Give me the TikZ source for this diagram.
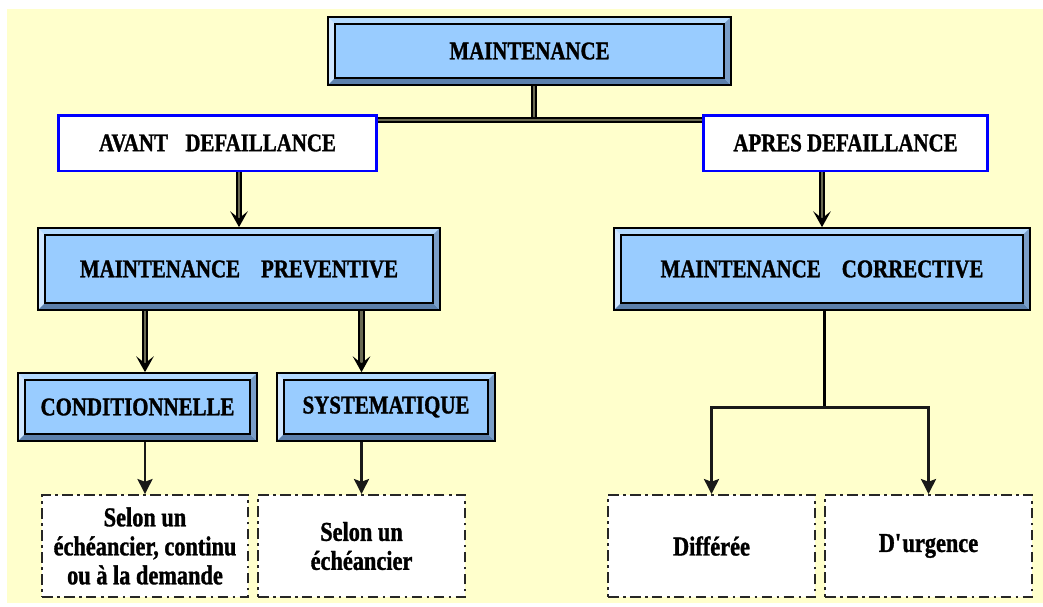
\documentclass[tikz,border=0pt]{standalone}
\usepackage{fontspec}
\setmainfont{Liberation Serif}[FakeStretch=0.82, BoldFeatures={FakeBold=1.2}]
\usepackage{tikz}
\usetikzlibrary{arrows.meta,positioning}
\usepackage{xcolor}
\definecolor{bgyellow}{HTML}{FFFFCC}
\definecolor{faceblue}{HTML}{99CCFF}
\definecolor{bevtop}{HTML}{B4DAFF}
\definecolor{bevleft}{HTML}{CFE6FF}
\definecolor{bevbot}{HTML}{5C80AC}
\definecolor{bevright}{HTML}{7A9EC8}
\definecolor{shaft}{HTML}{6A6A52}
\newcommand{\bev}{0.14cm}
\tikzset{
mnt/.style = {align=center, inner sep=0pt, text centered,
font=\fontsize{14.5}{16}\selectfont\bfseries},
mnt_b/.style = {mnt, fill=faceblue, draw=black, line width=1pt,
  path picture={
    \coordinate (pnw) at (path picture bounding box.north west);
    \coordinate (pne) at (path picture bounding box.north east);
    \coordinate (psw) at (path picture bounding box.south west);
    \coordinate (pse) at (path picture bounding box.south east);
    \coordinate (inw) at ([shift={(\bev,-\bev)}]pnw);
    \coordinate (ine) at ([shift={(-\bev,-\bev)}]pne);
    \coordinate (isw) at ([shift={(\bev,\bev)}]psw);
    \coordinate (ise) at ([shift={(-\bev,\bev)}]pse);
    \fill[bevtop] (pnw) -- (pne) -- (ine) -- (inw) -- cycle;
    \fill[bevleft] (pnw) -- (inw) -- (isw) -- (psw) -- cycle;
    \fill[bevbot] (psw) -- (isw) -- (ise) -- (pse) -- cycle;
    \fill[bevright] (pne) -- (pse) -- (ise) -- (ine) -- cycle;
    \draw[line width=0.7pt] (inw) rectangle (ise);
  }},% boite en relief
mnt_f/.style = {mnt, fill=white, draw=blue, line width=1.7pt},% cadre bleu
mnt_d/.style = {mnt, fill=white, draw=black!85, line width=1.1pt,
  dash pattern=on 6pt off 2.5pt on 1.5pt off 2.5pt,
  font=\fontsize{15.5}{16.5}\selectfont\bfseries},% cadre mixte
dbl/.style = {draw=black, line width=1.1pt, double=shaft, double distance=1.3pt},
dbl_arr/.style = {dbl, -{Stealth[length=9pt,width=10pt,inset=4pt]}},
sgl_arr/.style = {draw=black!90, line width=1.7pt, -{Stealth[length=8.5pt,width=8.5pt,inset=1.5pt]}}
}
\begin{document}
\begin{tikzpicture}[x=0.02cm, y=-0.02cm]
  \useasboundingbox (0,0) rectangle (1043,606);
  \fill[bgyellow] (7,9) rectangle (1043,603);
  % niveau 1
  \node[mnt_b, minimum width=8.06cm, minimum height=1.36cm] (maint) at (529.5,51) {MAINTENANCE};
  % niveau 2
  \node[mnt_f, minimum width=6.38cm, minimum height=1.12cm] (avant) at (217.5,143) {AVANT\hspace{7pt} DEFAILLANCE};
  \node[mnt_f, minimum width=5.7cm, minimum height=1.12cm] (apres) at (845.5,143) {APRES DEFAILLANCE};
  % niveau 3
  \node[mnt_b, minimum width=8.04cm, minimum height=1.64cm] (prev) at (239,269) {MAINTENANCE\hspace{9pt} PREVENTIVE};
  \node[mnt_b, minimum width=8.32cm, minimum height=1.64cm] (corr) at (822,269) {MAINTENANCE\hspace{9pt} CORRECTIVE};
  % niveau 4
  \node[mnt_b, minimum width=4.78cm, minimum height=1.36cm] (cond) at (137.5,407) {CONDITIONNELLE};
  \node[mnt_b, minimum width=4.36cm, minimum height=1.36cm] (syst) at (386,407) {SYSTEMATIQUE};
  % feuilles
  \node[mnt_d, minimum width=4.12cm, minimum height=2.04cm] (sel1) at (145,546) {Selon un\\échéancier, continu\\ou à la demande};
  \node[mnt_d, minimum width=4.14cm, minimum height=2.04cm] (sel2) at (361.5,546) {Selon un\\échéancier};
  \node[mnt_d, minimum width=4.14cm, minimum height=2.04cm] (diff) at (711.5,546) {Différée};
  \node[mnt_d, minimum width=4.14cm, minimum height=2.04cm] (urg) at (928.5,546) {D\textquotesingle urgence};
  % liaisons
  \coordinate (hub) at (534,120);
  \coordinate (fork) at (824,407);
  \draw[dbl] (maint.south -| hub) -- (hub);
  \draw[dbl, double distance=1.6pt] (avant.east |- hub) -- (apres.west |- hub);
  \draw[dbl_arr] (avant.south -| prev.north) -- (prev.north);
  \draw[dbl_arr] (apres.south -| corr.north) -- (corr.north);
  \draw[dbl_arr] (prev.south -| sel1.north) -- (cond.north -| sel1.north);
  \draw[dbl_arr] (prev.south -| sel2.north) -- (syst.north -| sel2.north);
  \draw[sgl_arr] (cond.south -| sel1.north) -- (sel1.north);
  \draw[sgl_arr] (syst.south -| sel2.north) -- (sel2.north);
  \draw[line width=1.7pt] (corr.south -| fork) -- (fork);
  \draw[sgl_arr] (fork) -| (diff.north);
  \draw[sgl_arr] (fork) -| (urg.north);
\end{tikzpicture}
\end{document}
